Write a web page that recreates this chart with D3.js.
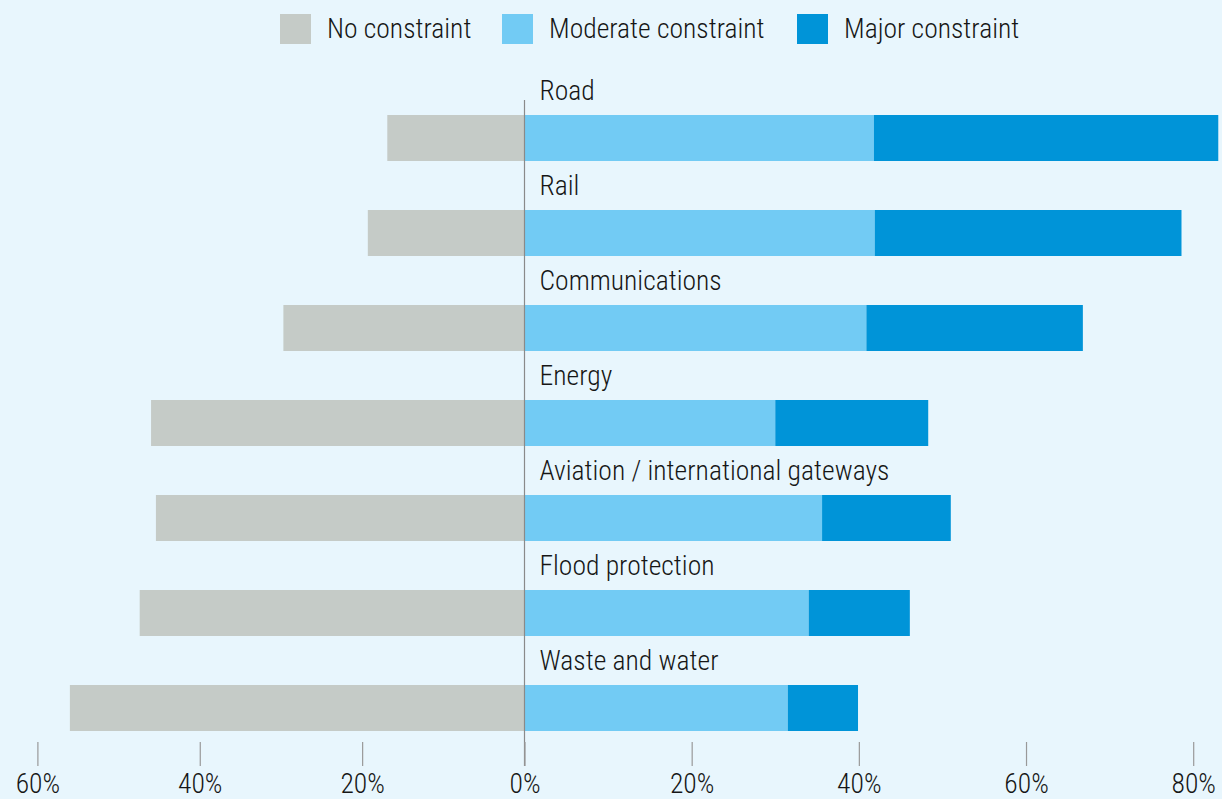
<!DOCTYPE html>
<html><head><meta charset="utf-8">
<script src="https://cdn.jsdelivr.net/npm/d3@7"></script>
<style>
html,body{margin:0;padding:0;background:#e8f6fd;}
text{font-family:'Roboto Condensed','Liberation Sans',sans-serif;font-weight:300;fill:#161616;}
</style>
</head>
<body>
<svg id="chart" width="1222" height="799"></svg>
<script>
// ---- data ----
const categories = ["Road","Rail","Communications","Energy","Aviation / international gateways","Flood protection","Waste and water"];
const noConstraint = [16.9, 19.3, 29.7, 46.0, 45.4, 47.4, 56.0];
const moderateConstraint = [41.8, 41.9, 40.9, 30.0, 35.6, 34.0, 31.5];
const majorConstraint = [41.2, 36.7, 25.9, 18.3, 15.4, 12.1, 8.4];
const seriesNames = ["No constraint","Moderate constraint","Major constraint"];
const tickValues = [-60,-40,-20,0,20,40,60,80];

// ---- styles ----
const colors = ["#c5cbc7","#72cbf4","#0094d8"];
const W = 1222, H = 799;
const FS = 27.6;
const svg = d3.select("#chart");
svg.append("rect").attr("width",W).attr("height",H).attr("fill","#e8f6fd");

const x = d3.scaleLinear().domain([-60,0,80]).range([37.4,524.5,1193.2]);
const y = d3.scaleBand().domain(categories).range([115,731]).paddingInner(49/95).paddingOuter(0);

const rows = categories.map((c,i)=>({cat:c, no:noConstraint[i], mod:moderateConstraint[i], maj:majorConstraint[i]}));

const g = svg.append("g");
g.selectAll(".no").data(rows).join("rect")
  .attr("x",d=>x(-d.no)).attr("width",d=>x(0)-x(-d.no))
  .attr("y",d=>y(d.cat)).attr("height",y.bandwidth()).attr("fill",colors[0]);
g.selectAll(".mod").data(rows).join("rect")
  .attr("x",x(0)).attr("width",d=>x(d.mod)-x(0))
  .attr("y",d=>y(d.cat)).attr("height",y.bandwidth()).attr("fill",colors[1]);
g.selectAll(".maj").data(rows).join("rect")
  .attr("x",d=>x(d.mod)).attr("width",d=>x(d.mod+d.maj)-x(d.mod))
  .attr("y",d=>y(d.cat)).attr("height",y.bandwidth()).attr("fill",colors[2]);

g.selectAll(".lab").data(rows).join("text")
  .attr("x",x(0)+15).attr("y",d=>y(d.cat)-15)
  .attr("font-size",FS).text(d=>d.cat);

svg.append("line").attr("x1",x(0)).attr("x2",x(0)).attr("y1",100).attr("y2",766)
  .attr("stroke","#8a8a8a").attr("stroke-width",1.2);

const axis = d3.axisBottom(x).tickValues(tickValues).tickSize(24).tickPadding(7)
  .tickFormat(d=>Math.abs(d)+"%");
const ag = svg.append("g").attr("transform","translate(0,742)").call(axis);
ag.select(".domain").remove();
ag.selectAll(".tick line").attr("stroke","#999").attr("stroke-width",1.2);
ag.selectAll(".tick text").attr("font-size",FS).attr("fill","#161616")
  .attr("font-family","'Roboto Condensed','Liberation Sans',sans-serif").attr("font-weight",300);

const legendX = [280, 502, 797];
const lg = svg.append("g");
seriesNames.forEach((n,i)=>{
  lg.append("rect").attr("x",legendX[i]).attr("y",14).attr("width",31).attr("height",30).attr("fill",colors[i]);
  lg.append("text").attr("x",legendX[i]+47).attr("y",38).attr("font-size",FS).text(n);
});
</script>
</body></html>
